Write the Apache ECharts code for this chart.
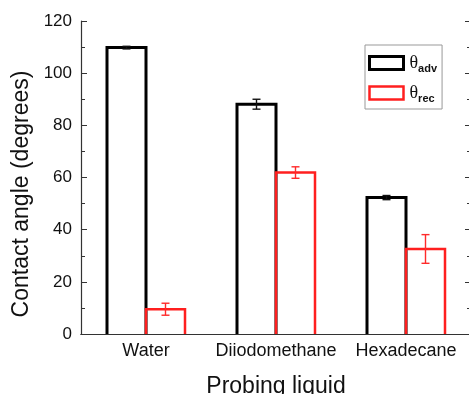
<!DOCTYPE html>
<html>
<head>
<meta charset="utf-8">
<script src="https://cdn.jsdelivr.net/npm/echarts@6/dist/echarts.min.js"></script>
<style>
  html, body { margin: 0; padding: 0; background: #fff; overflow: hidden; }
  #main { width: 473px; height: 394px; }
</style>
</head>
<body>
<div id="main"></div>
<script>
// data
var liquids = ['Water', 'Diiodomethane', 'Hexadecane'];
var advAngle = [109.8, 88.1, 52.3];
var advErr = [0.5, 1.9, 0.8];
var recAngle = [9.5, 61.9, 32.6];
var recErr = [2.3, 2.2, 5.5];
var yTicks = [0, 20, 40, 60, 80, 100, 120];

var font = 'Liberation Sans, Arial, sans-serif';
var axisCol = '#333';
var barW = 39;
var advCol = '#000';
var recCol = '#ff1f1f';

// open-bottom bars (the original has no bottom edge on the boxes)
function barSeries(name, vals, color, width, side) {
  return {
    name: name,
    type: 'custom',
    z: 3,
    data: vals.map(function (v, i) { return [i, v]; }),
    itemStyle: { color: '#fff', borderColor: color, borderWidth: width },
    renderItem: function (params, api) {
      var i = api.value(0), v = api.value(1);
      var top = api.coord([i, v]);
      var base = api.coord([i, 0]);
      var xc = top[0] + side * barW / 2;
      var l = xc - barW / 2, r = xc + barW / 2;
      return {
        type: 'polyline',
        shape: { points: [[l, base[1]], [l, top[1]], [r, top[1]], [r, base[1]]] },
        style: { stroke: color, lineWidth: width, fill: null, lineJoin: 'miter' }
      };
    }
  };
}

function errorSeries(vals, errs, color, side) {
  return {
    type: 'custom',
    z: 5,
    silent: true,
    data: vals.map(function (v, i) { return [i, v, errs[i]]; }),
    renderItem: function (params, api) {
      var i = api.value(0), v = api.value(1), e = api.value(2);
      var hi = api.coord([i, v + e]);
      var lo = api.coord([i, v - e]);
      var x = hi[0] + side * barW / 2;
      var cap = 4;
      var st = { stroke: color, lineWidth: 1.4 };
      return {
        type: 'group',
        children: [
          { type: 'line', shape: { x1: x, y1: hi[1], x2: x, y2: lo[1] }, style: st },
          { type: 'line', shape: { x1: x - cap, y1: hi[1], x2: x + cap, y2: hi[1] }, style: st },
          { type: 'line', shape: { x1: x - cap, y1: lo[1], x2: x + cap, y2: lo[1] }, style: st }
        ]
      };
    }
  };
}

var chart = echarts.init(document.getElementById('main'));

var legendRich = {
  t: { fontSize: 18, fontFamily: 'Liberation Serif, serif', color: '#111', verticalAlign: 'top', lineHeight: 17 },
  s: { fontSize: 11, fontWeight: 'bold', fontFamily: font, color: '#111', padding: [11, 0, 0, 0], lineHeight: 12 }
};

chart.setOption({
  animation: false,
  textStyle: { fontFamily: font },
  grid: { left: 81, top: 21, width: 390, height: 313, outerBoundsMode: 'none', containLabel: false },
  legend: {
    left: 365,
    top: 45,
    orient: 'vertical',
    padding: [7, 5, 5, 3],
    itemGap: 8,
    itemWidth: 34,
    itemHeight: 13,
    icon: 'rect',
    borderColor: '#999',
    borderWidth: 1,
    data: [
      { name: 'adv', itemStyle: { color: '#fff', borderColor: advCol, borderWidth: 3 } },
      { name: 'rec', itemStyle: { color: '#fff', borderColor: recCol, borderWidth: 2.5 } }
    ],
    formatter: function (name) { return '{t|θ}{s|' + name + '}'; },
    textStyle: { rich: legendRich, padding: [0, 0, 0, 1] }
  },
  xAxis: [{
    type: 'category',
    data: liquids,
    name: 'Probing liquid',
    nameLocation: 'middle',
    nameGap: 41,
    nameTextStyle: { fontSize: 23, color: '#111', fontFamily: font },
    axisLine: { lineStyle: { color: axisCol, width: 1.2 } },
    axisTick: { inside: true, length: 5, lineStyle: { color: axisCol } },
    axisLabel: { fontSize: 18, color: '#111', margin: 8, fontFamily: font, interval: 0, hideOverlap: false }
  }, {
    type: 'category',
    data: liquids,
    position: 'top',
    axisLine: { lineStyle: { color: axisCol, width: 1.2 } },
    axisTick: { inside: true, length: 5, lineStyle: { color: axisCol } },
    axisLabel: { show: false }
  }],
  yAxis: [{
    type: 'value',
    min: yTicks[0],
    max: yTicks[yTicks.length - 1],
    interval: yTicks[1] - yTicks[0],
    name: 'Contact angle (degrees)',
    nameLocation: 'middle',
    nameGap: 48,
    nameTextStyle: { fontSize: 23, color: '#111', fontFamily: font, padding: [0, 33, 0, 0] },
    axisLine: { show: true, lineStyle: { color: axisCol, width: 1.2 } },
    axisTick: { show: true, inside: true, length: 6, lineStyle: { color: axisCol } },
    minorTick: { show: true, splitNumber: 2, length: 4, lineStyle: { color: axisCol } },
    splitLine: { show: false },
    axisLabel: { fontSize: 17, color: '#111', margin: 9, fontFamily: font }
  }, {
    type: 'value',
    position: 'right',
    min: yTicks[0],
    max: yTicks[yTicks.length - 1],
    interval: yTicks[1] - yTicks[0],
    axisLine: { show: true, lineStyle: { color: axisCol, width: 1.2 } },
    axisTick: { show: true, inside: true, length: 6, lineStyle: { color: axisCol } },
    minorTick: { show: true, splitNumber: 2, length: 4, lineStyle: { color: axisCol } },
    splitLine: { show: false },
    axisLabel: { show: false }
  }],
  series: [
    barSeries('adv', advAngle, advCol, 3, -1),
    barSeries('rec', recAngle, recCol, 2.5, 1),
    errorSeries(advAngle, advErr, '#111', -1),
    errorSeries(recAngle, recErr, '#ff2a2a', 1)
  ]
});
</script>
</body>
</html>
